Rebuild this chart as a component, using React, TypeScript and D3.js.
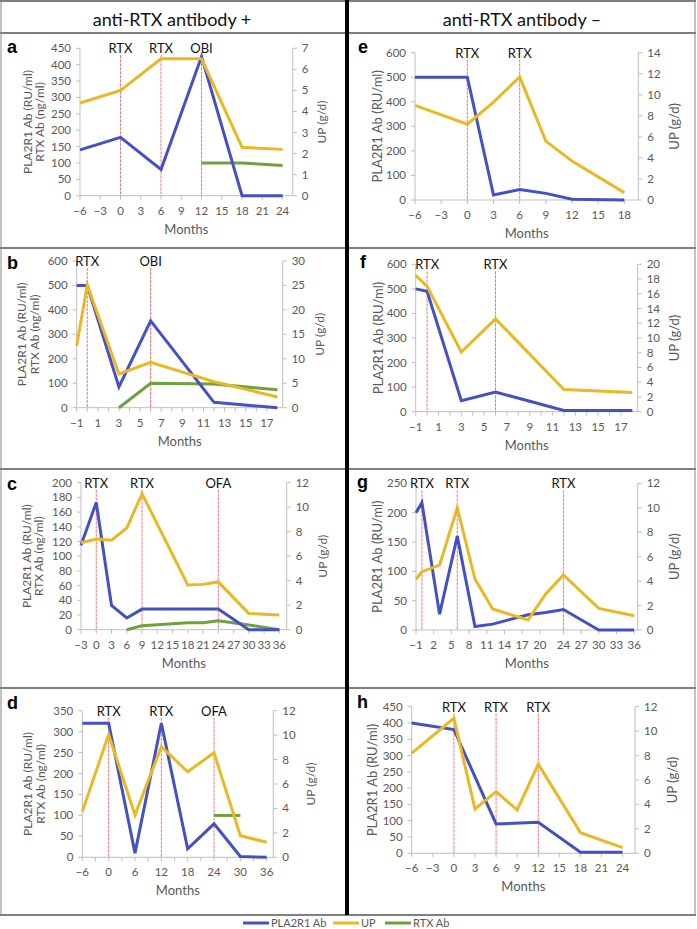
import React from "react";
import * as d3 from "d3";

// ---- panel a (anti-RTX +) ----
const aPlaMonths = [-6, 0, 6, 12, 18, 24];
const aPla = [140, 178, 80, 425, 0, 0];
const aUpMonths = [-6, 0, 6, 12, 18, 24];
const aUp = [4.4, 5.0, 6.5, 6.5, 2.3, 2.2];
const aRtxMonths = [12, 18, 24];
const aRtx = [100, 100, 92];
const aEventMonths = [0, 6, 12];
const aEvents = ["RTX", "RTX", "OBI"];

// ---- panel b ----
const bPlaMonths = [-1, 0, 3, 6, 12, 18];
const bPla = [500, 500, 85, 355, 22, 0];
const bUpMonths = [-1, 0, 3, 6, 12, 18];
const bUp = [12.7, 25.1, 6.9, 9.3, 5.3, 2.2];
const bRtxMonths = [3, 6, 12, 18];
const bRtx = [0, 100, 97, 73];
const bEventMonths = [0, 6];
const bEvents = ["RTX", "OBI"];

// ---- panel c ----
const cPlaMonths = [-3, 0, 3, 6, 9, 18, 21, 24, 30, 36];
const cPla = [115, 173, 33, 16, 28, 28, 28, 28, 0, 0];
const cUpMonths = [-3, 0, 3, 6, 9, 18, 21, 24, 30, 36];
const cUp = [7.1, 7.4, 7.3, 8.3, 11.1, 3.65, 3.7, 3.9, 1.33, 1.2];
const cRtxMonths = [6, 9, 18, 21, 24, 30, 36];
const cRtx = [0, 5.5, 9.5, 9.5, 12, 6.5, 0];
const cEventMonths = [0, 9, 24];
const cEvents = ["RTX", "RTX", "OFA"];

// ---- panel d ----
const dPlaMonths = [-6, 0, 6, 12, 18, 24, 30, 36];
const dPla = [320, 320, 10, 320, 20, 80, 2, 0];
const dUpMonths = [-6, 0, 6, 12, 18, 24, 30, 36];
const dUp = [3.74, 10.06, 3.46, 9.05, 7.0, 8.56, 1.77, 1.23];
const dRtxMonths = [24, 30];
const dRtx = [100, 100];
const dEventMonths = [0, 12, 24];
const dEvents = ["RTX", "RTX", "OFA"];

// ---- panel e (anti-RTX -) ----
const ePlaMonths = [-6, 0, 3, 6, 9, 12, 18];
const ePla = [500, 500, 20, 43, 27, 3, 0];
const eUpMonths = [-6, 0, 3, 6, 9, 12, 18];
const eUp = [9.0, 7.2, 9.3, 11.7, 5.6, 3.7, 0.7];
const eEventMonths = [0, 6];
const eEvents = ["RTX", "RTX"];

// ---- panel f ----
const fPlaMonths = [-1, 0, 3, 6, 12, 18];
const fPla = [500, 490, 45, 80, 5, 5];
const fUpMonths = [-1, 0, 3, 6, 12, 18];
const fUp = [18.5, 17.0, 8.1, 12.6, 3.0, 2.6];
const fEventMonths = [0, 6];
const fEvents = ["RTX", "RTX"];

// ---- panel g ----
const gPlaMonths = [-1, 0, 3, 6, 9, 12, 18, 21, 24, 30, 36];
const gPla = [200, 217, 27, 160, 6, 10, 26, 30, 35, 0, 0];
const gUpMonths = [-1, 0, 3, 6, 9, 12, 18, 21, 24, 30, 36];
const gUp = [4.15, 4.77, 5.3, 10.0, 4.17, 1.72, 0.82, 2.95, 4.5, 1.77, 1.17];
const gEventMonths = [0, 6, 24];
const gEvents = ["RTX", "RTX", "RTX"];

// ---- panel h ----
const hPlaMonths = [-6, 0, 6, 12, 18, 24];
const hPla = [400, 380, 90, 95, 3, 3];
const hUpMonths = [-6, 0, 3, 6, 9, 12, 18, 24];
const hUp = [8.2, 11.05, 3.63, 5.05, 3.55, 7.3, 1.69, 0.46];
const hEventMonths = [0, 6, 12];
const hEvents = ["RTX", "RTX", "RTX"];

// tick labels
const ticksA = d3.range(-6, 25, 3);
const ticksB = d3.range(-1, 18, 2);
const ticksC = d3.range(-3, 37, 3);
const ticksD = d3.range(-6, 37, 6);
const ticksE = d3.range(-6, 19, 3);
const ticksH = d3.range(-6, 25, 3);
const ticksG = [-1, 2, 5, 8, 11, 14, 17, 20, 24, 27, 30, 33, 36];

const headers = ["anti-RTX antibody +", "anti-RTX antibody \u2013"];
const legendNames = ["PLA2R1 Ab", "UP", "RTX Ab"];

const BLUE = "#4451c4";
const GOLD = "#e9b824";
const GREEN = "#6da23e";
const GRAY_TXT = "#595959";
const AXIS = "#bfbfbf";
const FONT = "Lato, 'Open Sans', sans-serif";

const twoLabel = ["PLA2R1 Ab (RU/ml)", "RTX Ab (ng/ml)"];
const oneLabel = ["PLA2R1 Ab (RU/ml)"];

const panels = [
  { id: "a", L: 80, R: 292.7, T: 48.3, B: 195.7, xDom: [-6, 25.5], ticks: ticksA, minor: 3, fs: 12,
    lMax: 450, lStep: 50, rMax: 7, rStep: 1, lx: 7, ly: 53, labels: twoLabel, lOff: [-52, -40], rOff: 29,
    pm: aPlaMonths, pla: aPla, um: aUpMonths, up: aUp, rm: aRtxMonths, rtx: aRtx, em: aEventMonths, ev: aEvents },
  { id: "b", L: 76.7, R: 282.7, T: 261, B: 407.7, xDom: [-1, 18.5], ticks: ticksB, minor: 1, fs: 12,
    lMax: 600, lStep: 100, rMax: 30, rStep: 5, lx: 7, ly: 269, labels: twoLabel, lOff: [-55, -42], rOff: 37,
    pm: bPlaMonths, pla: bPla, um: bUpMonths, up: bUp, rm: bRtxMonths, rtx: bRtx, em: bEventMonths, ev: bEvents },
  { id: "c", L: 81, R: 286.7, T: 482.7, B: 629.7, xDom: [-3, 37.45], ticks: ticksC, minor: 3, fs: 12,
    lMax: 200, lStep: 20, rMax: 12, rStep: 2, lx: 7, ly: 490, labels: twoLabel, lOff: [-54, -42], rOff: 36,
    pm: cPlaMonths, pla: cPla, um: cUpMonths, up: cUp, rm: cRtxMonths, rtx: cRtx, em: cEventMonths, ev: cEvents },
  { id: "d", L: 82.3, R: 273.3, T: 710.7, B: 857.3, xDom: [-6, 37.5], ticks: ticksD, minor: 3, fs: 12,
    lMax: 350, lStep: 50, rMax: 12, rStep: 2, lx: 7, ly: 709, labels: twoLabel, lOff: [-54, -41], rOff: 38,
    pm: dPlaMonths, pla: dPla, um: dUpMonths, up: dUp, rm: dRtxMonths, rtx: dRtx, em: dEventMonths, ev: dEvents },
  { id: "e", L: 415, R: 638.3, T: 52.7, B: 200, xDom: [-6, 19.6], ticks: ticksE, minor: 3, fs: 13,
    lMax: 600, lStep: 100, rMax: 14, rStep: 2, lx: 358, ly: 53, labels: oneLabel, lOff: [-37], rOff: 37,
    pm: ePlaMonths, pla: ePla, um: eUpMonths, up: eUp, rm: [], rtx: [], em: eEventMonths, ev: eEvents },
  { id: "f", L: 415.7, R: 637.7, T: 264.3, B: 411.7, xDom: [-1, 18.47], ticks: ticksB, minor: 1, fs: 13,
    lMax: 600, lStep: 100, rMax: 20, rStep: 2, lx: 360, ly: 268, labels: oneLabel, lOff: [-37], rOff: 37,
    pm: fPlaMonths, pla: fPla, um: fUpMonths, up: fUp, rm: [], rtx: [], em: fEventMonths, ev: fEvents },
  { id: "g", L: 416, R: 637.7, T: 483.3, B: 630, xDom: [-1, 36.6], ticks: ticksG, minor: 0, fs: 13,
    lMax: 250, lStep: 50, rMax: 12, rStep: 2, lx: 357, ly: 488, labels: oneLabel, lOff: [-38], rOff: 37,
    pm: gPlaMonths, pla: gPla, um: gUpMonths, up: gUp, rm: [], rtx: [], em: gEventMonths, ev: gEvents },
  { id: "h", L: 411.7, R: 635, T: 706.7, B: 853.3, xDom: [-6, 25.76], ticks: ticksH, minor: 3, fs: 13,
    lMax: 450, lStep: 50, rMax: 12, rStep: 2, lx: 357, ly: 708, labels: oneLabel, lOff: [-39], rOff: 38,
    pm: hPlaMonths, pla: hPla, um: hUpMonths, up: hUp, rm: [], rtx: [], em: hEventMonths, ev: hEvents },
];

function Panel({ p }: { p: any }) {
  const x = d3.scaleLinear().domain(p.xDom).range([p.L, p.R]);
  const yL = d3.scaleLinear().domain([0, p.lMax]).range([p.B, p.T]);
  const yR = d3.scaleLinear().domain([0, p.rMax]).range([p.B, p.T]);
  const path = (ms: number[], vs: number[], y: any) =>
    d3.line()(ms.map((m, i) => [x(m), y(vs[i])] as [number, number])) || "";
  const lTicks = d3.range(0, p.lMax + 0.001, p.lStep);
  const rTicks = d3.range(0, p.rMax + 0.001, p.rStep);
  const xTickMarks = p.minor
    ? d3.range(p.ticks[0], p.ticks[p.ticks.length - 1] + 0.001, p.minor)
    : p.ticks;
  const midY = (p.T + p.B) / 2;
  return (
    <g>
      <text x={p.lx} y={p.ly} fontFamily="'Liberation Sans', Arial, sans-serif" fontWeight="bold" fontSize={18}>
        {p.id}
      </text>
      {/* axes */}
      <line x1={p.L} x2={p.L} y1={p.T} y2={p.B} stroke={AXIS} />
      <line x1={p.R} x2={p.R} y1={p.T} y2={p.B} stroke={AXIS} />
      <line x1={p.L} x2={p.R} y1={p.B} y2={p.B} stroke={AXIS} />
      {lTicks.map((t: number) => (
        <g key={"l" + t}>
          <line x1={p.L - 4} x2={p.L} y1={yL(t)} y2={yL(t)} stroke={AXIS} />
          <text x={p.L - 9} y={yL(t) + 4} textAnchor="end" fontSize={11.5} fill={GRAY_TXT} fontFamily={FONT}>
            {t}
          </text>
        </g>
      ))}
      {rTicks.map((t: number) => (
        <g key={"r" + t}>
          <line x1={p.R} x2={p.R + 4} y1={yR(t)} y2={yR(t)} stroke={AXIS} />
          <text x={p.R + 9} y={yR(t) + 4} fontSize={11.5} fill={GRAY_TXT} fontFamily={FONT}>
            {t}
          </text>
        </g>
      ))}
      {xTickMarks.map((t: number) => (
        <line key={"xm" + t} x1={x(t)} x2={x(t)} y1={p.B} y2={p.B + 4} stroke={AXIS} />
      ))}
      {p.ticks.map((t: number) => (
        <text key={"x" + t} x={x(t)} y={p.B + 19} textAnchor="middle" fontSize={11.5} fill={GRAY_TXT} fontFamily={FONT}>
          {t < 0 ? "\u2212" + Math.abs(t) : t}
        </text>
      ))}
      <text x={(p.L + p.R) / 2} y={p.B + 38} textAnchor="middle" fontSize={13} fill={GRAY_TXT} fontFamily={FONT}>
        Months
      </text>
      {p.labels.map((s: string, i: number) => (
        <text key={s} transform={`translate(${p.L + p.lOff[i] + 4},${midY}) rotate(-90)`} textAnchor="middle"
          fontSize={p.fs} fill={GRAY_TXT} fontFamily={FONT}>
          {s}
        </text>
      ))}
      <text transform={`translate(${p.R + p.rOff + 4},${midY}) rotate(-90)`} textAnchor="middle"
        fontSize={p.fs} fill={GRAY_TXT} fontFamily={FONT}>
        UP (g/d)
      </text>
      {/* treatment markers */}
      {p.em.map((m: number, i: number) => (
        <g key={"ev" + i}>
          <line x1={x(m)} x2={x(m)} y1={p.T + 7} y2={p.B} stroke="#ee5555" strokeWidth={1}
            strokeDasharray="3,1" opacity={0.8} />
          <text x={x(m)} y={p.T + 5} textAnchor="middle" fontSize={13} fill="#111" fontFamily={FONT}>
            {p.ev[i]}
          </text>
        </g>
      ))}
      {/* series */}
      {p.rm.length > 0 && (
        <path d={path(p.rm, p.rtx, yL)} fill="none" stroke={GREEN} strokeWidth={3} />
      )}
      <path d={path(p.pm, p.pla, yL)} fill="none" stroke={BLUE} strokeWidth={3} />
      <path d={path(p.um, p.up, yR)} fill="none" stroke={GOLD} strokeWidth={3} />
    </g>
  );
}

export default function App() {
  const rowLines = [1, 33, 248, 469, 688, 915];
  const legendColors = [BLUE, GOLD, GREEN];
  const legendX = [243, 333, 385];
  return (
    <svg width={697} height={929} style={{ position: "absolute", left: 0, top: 0, background: "#fff" }}>
      <rect width={697} height={929} fill="#fff" />
      {rowLines.map((y) => (
        <line key={y} x1={0} x2={696} y1={y} y2={y} stroke="#555" strokeWidth={1.5} />
      ))}
      <line x1={1} x2={1} y1={1} y2={915} stroke="#888" strokeWidth={1} />
      <line x1={695} x2={695} y1={1} y2={915} stroke="#888" strokeWidth={1} />
      <line x1={347} x2={347} y1={0} y2={915} stroke="#000" strokeWidth={4} />
      {headers.map((h, i) => (
        <text key={h} x={i === 0 ? 172 : 522} y={26} textAnchor="middle" fontSize={18} fill="#111" fontFamily={FONT}>
          {h}
        </text>
      ))}
      {panels.map((p) => (
        <Panel key={p.id} p={p} />
      ))}
      {legendNames.map((n, i) => (
        <g key={n}>
          <line x1={legendX[i]} x2={legendX[i] + 26} y1={923} y2={923} stroke={legendColors[i]} strokeWidth={3} />
          <text x={legendX[i] + 28} y={927} fontSize={11} fill={GRAY_TXT} fontFamily={FONT}>
            {n}
          </text>
        </g>
      ))}
    </svg>
  );
}
